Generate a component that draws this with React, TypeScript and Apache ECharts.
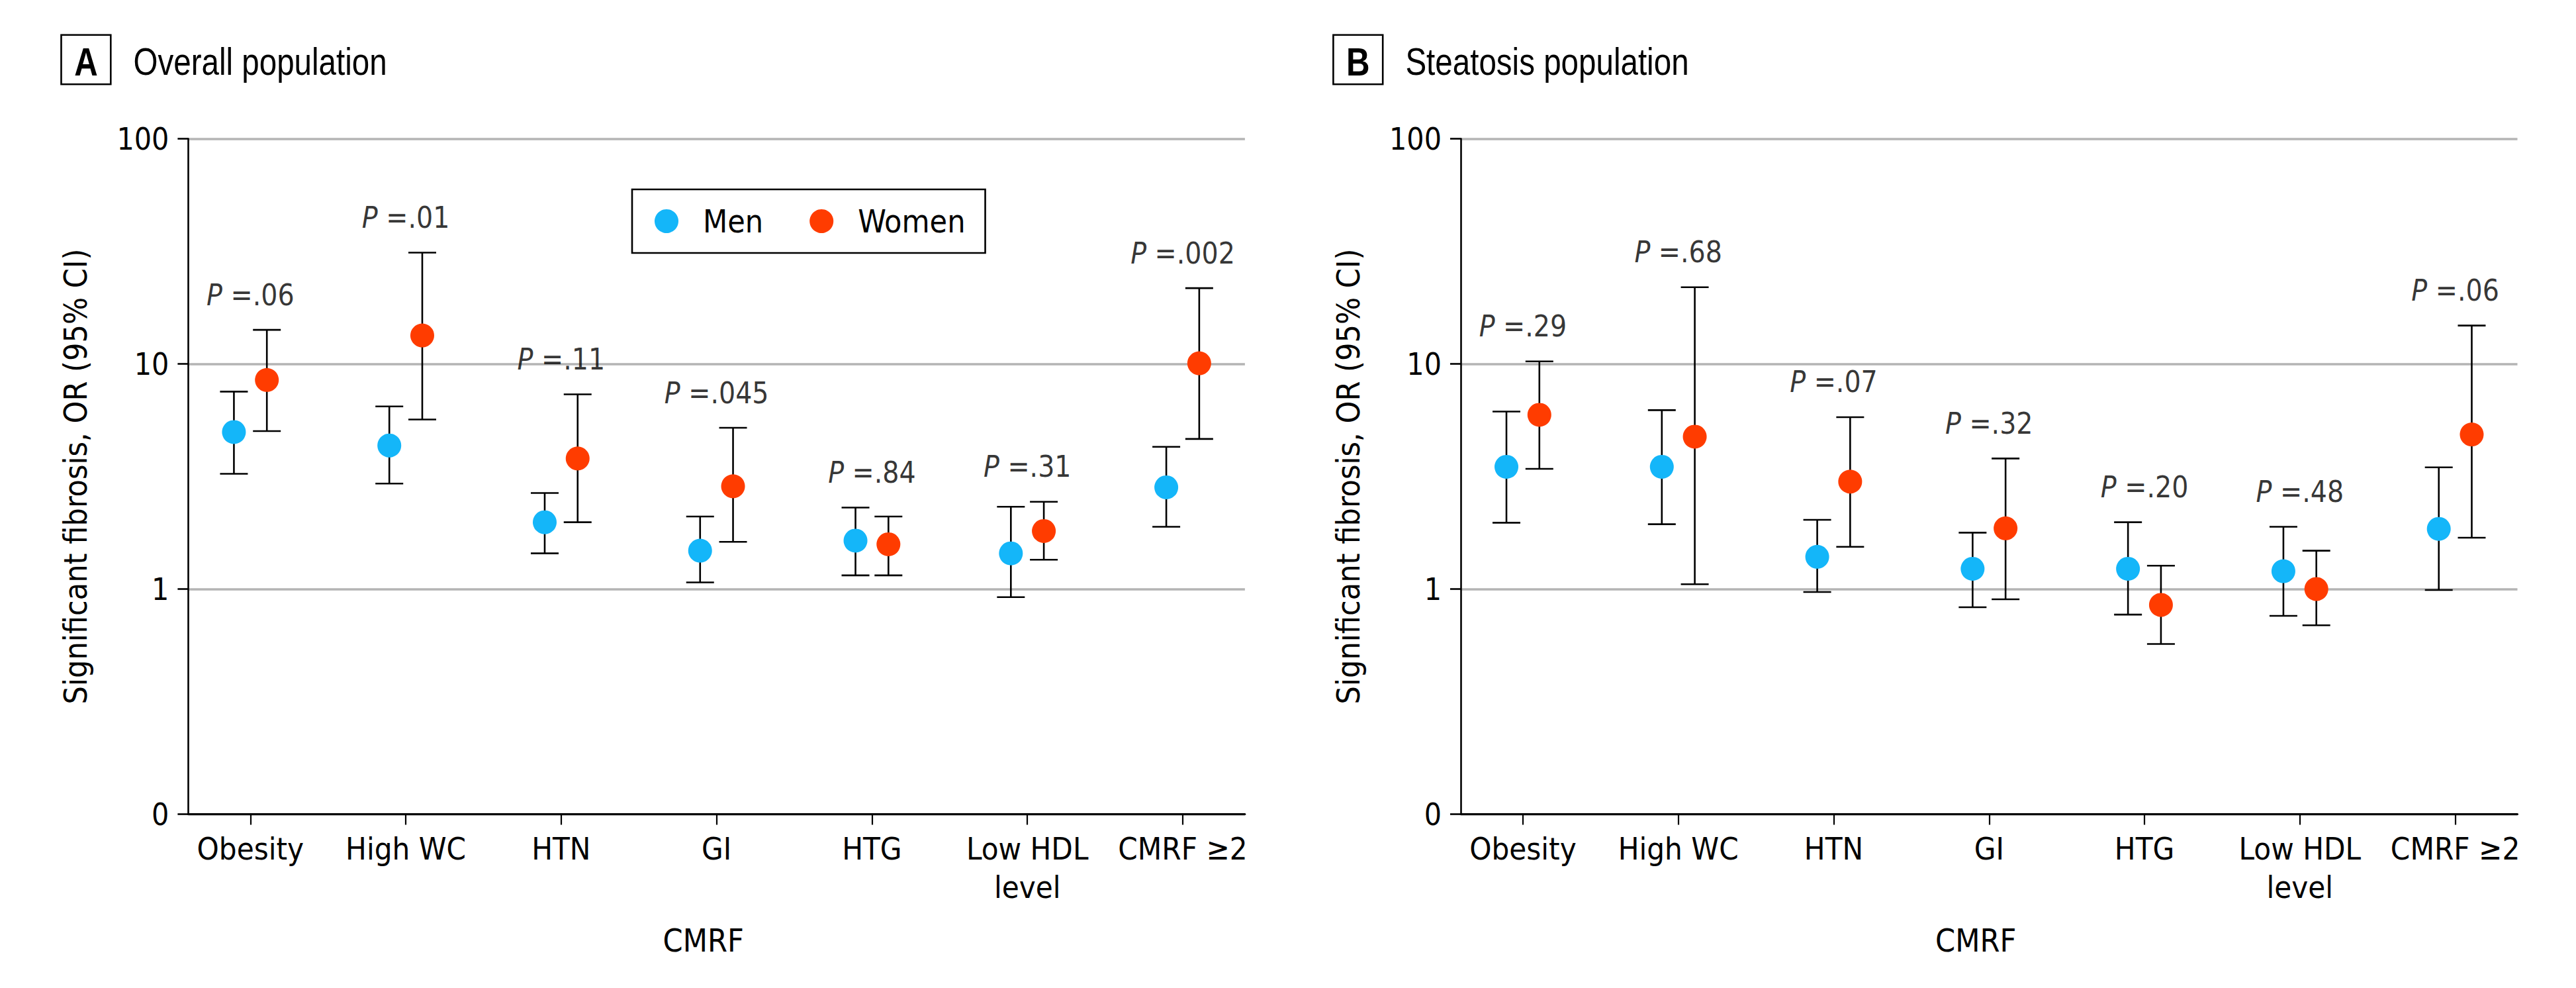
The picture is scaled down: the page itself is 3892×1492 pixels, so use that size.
import React, { useEffect, useRef } from "react";
import * as echarts from "echarts";

// Cardiometabolic risk factors (CMRF) on the x axis
const categories = ["Obesity", "High WC", "HTN", "GI", "HTG", "Low HDL\nlevel", "CMRF \u22652"];

// Panel A: overall population, odds ratios with 95% CI
const overallMenOR = [4.98, 4.34, 1.98, 1.48, 1.64, 1.44, 2.83];
const overallMenLow = [3.25, 2.94, 1.44, 1.07, 1.15, 0.92, 1.89];
const overallMenHigh = [7.53, 6.47, 2.67, 2.1, 2.3, 2.32, 4.28];
const overallWomenOR = [8.48, 13.37, 3.8, 2.86, 1.58, 1.81, 10.06];
const overallWomenLow = [5.03, 5.66, 1.98, 1.62, 1.15, 1.35, 4.64];
const overallWomenHigh = [14.16, 31.2, 7.32, 5.2, 2.1, 2.44, 21.7];
const overallP = [".06", ".01", ".11", ".045", ".84", ".31", ".002"];

// Panel B: steatosis population
const steatosisMenOR = [3.49, 3.49, 1.39, 1.23, 1.23, 1.2, 1.85];
const steatosisMenLow = [1.97, 1.94, 0.97, 0.83, 0.77, 0.76, 0.99];
const steatosisMenHigh = [6.14, 6.23, 2.03, 1.78, 1.98, 1.89, 3.47];
const steatosisWomenOR = [5.94, 4.75, 3.0, 1.86, 0.85, 1.0, 4.86];
const steatosisWomenLow = [3.42, 1.05, 1.54, 0.9, 0.57, 0.69, 1.69];
const steatosisWomenHigh = [10.26, 21.9, 5.8, 3.8, 1.27, 1.48, 14.8];
const steatosisP = [".29", ".68", ".07", ".32", ".20", ".48", ".06"];

const yTickValues = [0.1, 1, 10, 100];

const MEN_COLOR = "#14b6f9";
const WOMEN_COLOR = "#ff3c00";
const FONT_AXIS = "'DejaVu Sans Condensed', 'DejaVu Sans', sans-serif";
const FONT_PLOT = "'DejaVu Sans Condensed', 'DejaVu Sans', sans-serif";
const FONT_TITLE = "'Liberation Sans', Arial, sans-serif";
// Liberation Sans squeezed horizontally gives a narrow heading face
const TITLE_SQUEEZE = 0.82;

const DODGE = 0.106;
const GRID_TOP = 209.5;
const GRID_H = 1020;
const GRID_W = 1596.5;
const CAP_HALF = 21;

type PanelData = {
  menOR: number[];
  menLow: number[];
  menHigh: number[];
  womenOR: number[];
  womenLow: number[];
  womenHigh: number[];
  p: string[];
};

const panels: PanelData[] = [
  {
    menOR: overallMenOR,
    menLow: overallMenLow,
    menHigh: overallMenHigh,
    womenOR: overallWomenOR,
    womenLow: overallWomenLow,
    womenHigh: overallWomenHigh,
    p: overallP,
  },
  {
    menOR: steatosisMenOR,
    menLow: steatosisMenLow,
    menHigh: steatosisMenHigh,
    womenOR: steatosisWomenOR,
    womenLow: steatosisWomenLow,
    womenHigh: steatosisWomenHigh,
    p: steatosisP,
  },
];

const gridLefts = [284.4, 2207];

function errorBarItem(params: any, api: any) {
  const x = api.value(0);
  const lo = api.coord([x, api.value(1)]);
  const hi = api.coord([x, api.value(2)]);
  const style = { stroke: "#000", lineWidth: 2.6 };
  return {
    type: "group",
    children: [
      { type: "line", shape: { x1: lo[0], y1: lo[1], x2: hi[0], y2: hi[1] }, style },
      { type: "line", shape: { x1: lo[0] - CAP_HALF, y1: lo[1], x2: lo[0] + CAP_HALF, y2: lo[1] }, style },
      { type: "line", shape: { x1: hi[0] - CAP_HALF, y1: hi[1], x2: hi[0] + CAP_HALF, y2: hi[1] }, style },
    ],
  };
}

function buildOption() {
  const idx = categories.map((_, i) => i);
  const grid = gridLefts.map((left) => ({ left, top: GRID_TOP, width: GRID_W, height: GRID_H }));

  const xAxis = gridLefts.map((_, g) => ({
    type: "value",
    gridIndex: g,
    min: -0.4,
    max: 6.4,
    z: 5,
    name: "CMRF",
    nameLocation: "middle",
    nameGap: 166,
    nameTextStyle: { fontFamily: FONT_AXIS, fontSize: 48, color: "#000", padding: [0, 40, 0, 0] },
    axisLine: { show: true, onZero: false, lineStyle: { color: "#000", width: 3 } },
    axisTick: { show: true, customValues: idx, length: 16, lineStyle: { color: "#000", width: 2.2 } },
    axisLabel: {
      customValues: idx,
      formatter: (v: number) => categories[Math.round(v)],
      fontFamily: FONT_AXIS,
      fontSize: 47,
      lineHeight: 58,
      color: "#000",
      margin: 23,
    },
    splitLine: { show: false },
  }));

  const yAxis = gridLefts.map((_, g) => ({
    type: "log",
    logBase: 10,
    gridIndex: g,
    min: yTickValues[0],
    max: yTickValues[yTickValues.length - 1],
    name: "Significant fibrosis, OR (95% CI)",
    nameLocation: "middle",
    nameGap: 146,
    nameTextStyle: { fontFamily: FONT_PLOT, fontSize: 48, color: "#000" },
    axisLine: { show: true, onZero: false, lineStyle: { color: "#000", width: 2.6 } },
    axisTick: { show: true, length: 16, lineStyle: { color: "#000", width: 2.6 } },
    axisLabel: {
      fontFamily: FONT_PLOT,
      fontSize: 46,
      color: "#000",
      margin: 29,
      formatter: (v: number) => (v < 0.5 ? "0" : String(Math.round(v))),
    },
    splitLine: { show: true, lineStyle: { color: "#b4b4b4", width: 3.5 } },
  }));

  const series: any[] = [];
  panels.forEach((d, g) => {
    series.push({
      type: "custom",
      name: "Men 95% CI",
      xAxisIndex: g,
      yAxisIndex: g,
      z: 2,
      silent: true,
      renderItem: errorBarItem,
      encode: { x: 0, y: [1, 2] },
      data: idx.map((i) => [i - DODGE, d.menLow[i], d.menHigh[i]]),
    });
    series.push({
      type: "custom",
      name: "Women 95% CI",
      xAxisIndex: g,
      yAxisIndex: g,
      z: 2,
      silent: true,
      renderItem: errorBarItem,
      encode: { x: 0, y: [1, 2] },
      data: idx.map((i) => [i + DODGE, d.womenLow[i], d.womenHigh[i]]),
    });
    series.push({
      type: "scatter",
      name: "Men",
      xAxisIndex: g,
      yAxisIndex: g,
      z: 3,
      symbol: "circle",
      symbolSize: 36,
      itemStyle: { color: MEN_COLOR, opacity: 1 },
      data: idx.map((i) => [i - DODGE, d.menOR[i]]),
    });
    series.push({
      type: "scatter",
      name: "Women",
      xAxisIndex: g,
      yAxisIndex: g,
      z: 3,
      symbol: "circle",
      symbolSize: 36,
      itemStyle: { color: WOMEN_COLOR, opacity: 1 },
      data: idx.map((i) => [i + DODGE, d.womenOR[i]]),
    });
    // P value annotations sit above the taller of the two intervals
    series.push({
      type: "scatter",
      name: "P value",
      xAxisIndex: g,
      yAxisIndex: g,
      z: 4,
      silent: true,
      symbolSize: 1,
      itemStyle: { color: "rgba(0,0,0,0)" },
      label: {
        show: true,
        position: "inside",
        offset: [0, -53],
        color: "#000",
        fontFamily: FONT_PLOT,
        fontSize: 44,
        formatter: (p: any) => `{i|P} =${p.name}`,
        rich: {
          i: { fontStyle: "italic", fontFamily: FONT_PLOT, fontSize: 44, color: "#000" },
        },
      },
      data: idx.map((i) => ({ name: d.p[i], value: [i, Math.max(d.menHigh[i], d.womenHigh[i])] })),
    });
  });

  const panelTitle = (boxX: number, letter: string, text: string) => [
    {
      type: "rect",
      shape: { x: boxX, y: 52.7, width: 74.8, height: 74.6 },
      style: { fill: "none", stroke: "#000", lineWidth: 2.6 },
    },
    {
      type: "text",
      x: boxX + 37.4,
      y: 92.8,
      scaleX: TITLE_SQUEEZE,
      style: {
        text: letter,
        fill: "#000",
        font: `bold 60px ${FONT_TITLE}`,
        align: "center",
        verticalAlign: "middle",
      },
    },
    {
      type: "text",
      x: boxX + 109,
      y: 92.8,
      scaleX: TITLE_SQUEEZE,
      style: {
        text,
        fill: "#000",
        font: `58px ${FONT_TITLE}`,
        align: "left",
        verticalAlign: "middle",
      },
    },
  ];

  return {
    animation: false,
    backgroundColor: "#fff",
    grid,
    xAxis,
    yAxis,
    legend: {
      data: ["Men", "Women"],
      left: 955,
      top: 286,
      orient: "horizontal",
      icon: "circle",
      itemWidth: 36,
      itemHeight: 36,
      itemGap: 70,
      padding: [24, 30, 24, 34],
      borderColor: "#000",
      borderWidth: 2.6,
      selectedMode: false,
      textStyle: { fontFamily: FONT_PLOT, fontSize: 48, color: "#000", padding: [0, 0, 0, 32] },
    },
    graphic: [
      ...panelTitle(92.5, "A", "Overall population"),
      ...panelTitle(2014.4, "B", "Steatosis population"),
    ],
    series,
  };
}

export default function App() {
  const ref = useRef<HTMLDivElement>(null);
  useEffect(() => {
    if (!ref.current) return;
    const chart = echarts.init(ref.current, null, { renderer: "svg" });
    chart.setOption(buildOption() as any);
    return () => chart.dispose();
  }, []);
  return (
    <div
      ref={ref}
      style={{ position: "fixed", left: 0, top: 0, width: 3892, height: 1492, background: "#fff" }}
    />
  );
}
